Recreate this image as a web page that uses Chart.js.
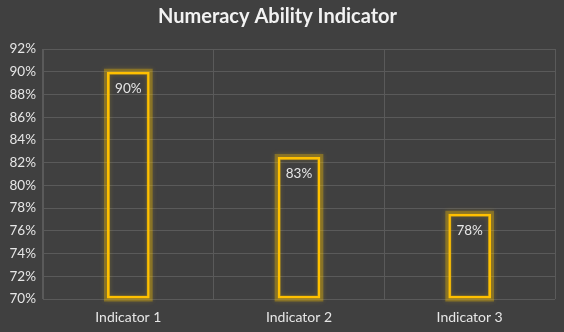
<!DOCTYPE html>
<html>
<head>
<meta charset="utf-8">
<script src="https://cdn.jsdelivr.net/npm/chart.js@4"></script>
<style>
  html, body { margin: 0; padding: 0; background: #404040; }
  #wrap { width: 564px; height: 332px; }
</style>
</head>
<body>
<div id="wrap"><canvas id="myChart"></canvas></div>
<script>
var categories = ['Indicator 1', 'Indicator 2', 'Indicator 3'];
var scores = [90, 82.5, 77.5];
var y_min = 70;
var y_max = 92;
var y_step = 2;

var gold = '#FFC000';
var textColor = '#E6E6E6';
var gridColor = '#5A5A5A';

// soft yellow halo round each bar outline, then the value label inside
var barGlow = {
    id: 'barGlow',
    beforeDatasetsDraw: function(chart) {
        var ctx = chart.ctx;
        var meta = chart.getDatasetMeta(0);
        ctx.save();
        ctx.strokeStyle = 'rgba(255,200,0,0.3)';
        ctx.lineWidth = 6;
        ctx.shadowColor = 'rgba(255,200,0,0.6)';
        ctx.shadowBlur = 5;
        meta.data.forEach(function(bar) {
            var half = bar.width / 2;
            ctx.strokeRect(bar.x - half, bar.y, bar.width, bar.base - bar.y);
        });
        ctx.restore();
    },
    afterDatasetsDraw: function(chart) {
        var ctx = chart.ctx;
        var meta = chart.getDatasetMeta(0);
        ctx.save();
        ctx.fillStyle = textColor;
        ctx.font = '13.5px Lato, "Open Sans", sans-serif';
        ctx.textAlign = 'center';
        ctx.textBaseline = 'middle';
        meta.data.forEach(function(bar, i) {
            ctx.fillText(Math.round(scores[i]) + '%', bar.x, bar.y + 17);
        });
        ctx.restore();
    }
};

var ctx = document.getElementById('myChart').getContext('2d');
var myChart = new Chart(ctx, {
    type: 'bar',
    data: {
        labels: categories,
        datasets: [{
            data: scores,
            base: y_min,
            backgroundColor: 'rgba(0,0,0,0)',
            borderColor: gold,
            borderWidth: 2.5,
            borderSkipped: false,
            categoryPercentage: 1,
            barPercentage: 0.25
        }]
    },
    options: {
        responsive: true,
        maintainAspectRatio: false,
        animation: false,
        layout: { padding: { left: 0, right: 9, top: 0, bottom: 0 } },
        plugins: {
            legend: { display: false },
            tooltip: { enabled: false },
            title: {
                display: true,
                text: 'Numeracy Ability Indicator',
                color: '#F2F2F2',
                font: { family: 'Lato, "Open Sans", sans-serif', size: 20, weight: 'bold' },
                padding: { top: 5, bottom: 20 }
            }
        },
        scales: {
            x: {
                grid: { color: gridColor, lineWidth: 1, drawTicks: false, offset: true },
                border: { display: false },
                ticks: {
                    color: textColor,
                    font: { family: 'Lato, "Open Sans", sans-serif', size: 14 },
                    padding: 10
                },
                afterFit: function(scale) { scale.height = 33; }
            },
            y: {
                min: y_min,
                max: y_max,
                grid: { color: gridColor, lineWidth: 1, drawTicks: false },
                border: { display: true, color: gridColor },
                ticks: {
                    stepSize: y_step,
                    color: textColor,
                    font: { family: 'Lato, "Open Sans", sans-serif', size: 13.5 },
                    padding: 7,
                    callback: function(v) { return v + '%'; }
                },
                afterFit: function(scale) { scale.width = 43; }
            }
        }
    },
    plugins: [barGlow]
});
</script>
</body>
</html>
